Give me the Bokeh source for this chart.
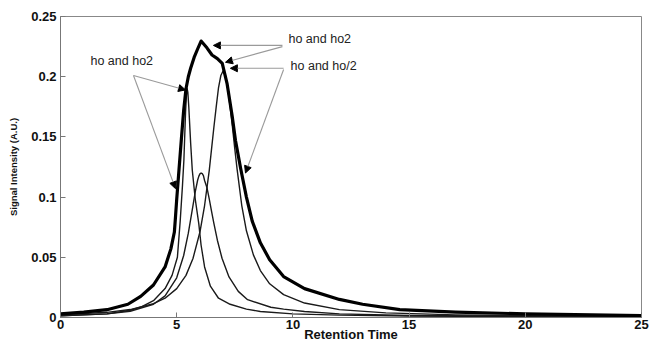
from bokeh.plotting import figure
from bokeh.models import Range1d, Label, Arrow, NormalHead, FixedTicker
from bokeh.embed import file_html
from bokeh.resources import INLINE

# ---- data ----
env_x = [0, 1, 2, 2.9, 3.45, 4.0, 4.5, 4.75, 4.9, 4.95, 5.0, 5.1, 5.2, 5.3, 5.4, 5.5, 5.6, 5.75,
         5.9, 6.05, 6.3, 6.52, 6.75, 6.96, 7.17, 7.39, 7.53, 7.75, 8.0, 8.25, 8.6, 9.0, 9.6, 10.5,
         12, 13, 14.6, 17, 20, 25]
env_y = [0.003, 0.0045, 0.0065, 0.011, 0.0175, 0.027, 0.042, 0.057, 0.071, 0.084, 0.098, 0.123,
         0.148, 0.172, 0.19, 0.2, 0.207, 0.216, 0.223, 0.2296, 0.224, 0.218, 0.215, 0.211, 0.194,
         0.167, 0.147, 0.124, 0.1, 0.08, 0.062, 0.048, 0.034, 0.024, 0.015, 0.011, 0.0066, 0.0045,
         0.003, 0.0015]

left_x = [0, 2, 3, 3.5, 4, 4.5, 4.8, 5.03, 5.15, 5.25, 5.31, 5.38, 5.42, 5.45, 5.48, 5.52, 5.6,
          5.67, 5.8, 5.95, 6.05, 6.2, 6.45, 6.8, 7.3, 8, 8.6, 10, 12, 15, 20, 25]
left_y = [0.0015, 0.003, 0.006, 0.009, 0.014, 0.024, 0.035, 0.05, 0.08, 0.11, 0.131, 0.17,
          0.185, 0.19, 0.187, 0.175, 0.145, 0.1225, 0.098, 0.078, 0.06, 0.042, 0.026, 0.016,
          0.011, 0.007, 0.005, 0.003, 0.002, 0.0013, 0.0008, 0.0005]

mid_x = [0, 2, 3, 4, 4.5, 5.0, 5.3, 5.5, 5.7, 5.8, 5.9, 5.95, 6.0, 6.05, 6.1, 6.15, 6.2, 6.3,
         6.4, 6.5, 6.6, 6.75, 6.95, 7.25, 7.65, 8.05, 9.05, 9.6, 10.5, 12, 15, 20, 25]
mid_y = [0.0014, 0.003, 0.0052, 0.011, 0.018, 0.033, 0.0515, 0.07, 0.093, 0.1045, 0.114,
         0.1172, 0.1193, 0.12, 0.1195, 0.1179, 0.1138, 0.108, 0.0986, 0.0882, 0.0781, 0.0642,
         0.0492, 0.0337, 0.0217, 0.0148, 0.0085, 0.007, 0.005, 0.003, 0.0016, 0.0009, 0.0006]

right_x = [0, 2, 3, 4, 4.5, 5, 5.4, 5.7, 6.0, 6.2, 6.4, 6.5, 6.6, 6.7, 6.8, 6.9, 7.0, 7.1, 7.2,
           7.3, 7.4, 7.5, 7.6, 7.8, 8.0, 8.3, 8.6, 9.0, 9.6, 10.5, 12, 14, 17, 20, 25]
right_y = [0.0022, 0.0043, 0.0066, 0.0115, 0.016, 0.024, 0.035, 0.049, 0.071, 0.093, 0.122,
           0.14, 0.158, 0.175, 0.191, 0.201, 0.205, 0.201, 0.19, 0.175, 0.158, 0.14, 0.123,
           0.093, 0.072, 0.052, 0.039, 0.028, 0.019, 0.012, 0.0065, 0.0038, 0.0022, 0.0015,
           0.0009]

x_ticks = [0, 5, 10, 15, 20, 25]
y_ticks = [0, 0.05, 0.1, 0.15, 0.2, 0.25]
y_tick_labels = ["0", "0.05", "0.1", "0.15", "0.2", "0.25"]

ann_texts = ["ho and ho2", "ho and ho2", "ho and ho/2"]
ann_pos = [(1.29, 0.213), (9.81, 0.231), (9.9, 0.2089)]
arrow_starts = [(3.14, 0.201), (3.14, 0.201), (9.55, 0.226), (9.55, 0.225), (9.6, 0.207), (9.6, 0.206)]
arrow_ends = [(5.38, 0.189), (4.95, 0.107), (6.58, 0.226), (7.1, 0.212), (7.31, 0.207), (7.96, 0.12)]

FONT = "Liberation Sans"

p = figure(width=650, height=344, output_backend="svg", toolbar_location=None,
           x_range=Range1d(0, 25), y_range=Range1d(0, 0.25),
           min_border_left=60, min_border_right=9, min_border_top=16, min_border_bottom=26)
p.grid.visible = False
p.outline_line_color = "#888888"
p.outline_line_width = 1
p.background_fill_color = "white"
p.border_fill_color = "white"

for ax in (p.xaxis[0], p.yaxis[0]):
    ax.axis_line_color = "#777777"
    ax.major_tick_line_color = "#777777"
    ax.major_tick_in = 5
    ax.major_tick_out = 0
    ax.minor_tick_line_color = None
    ax.major_label_text_font = FONT
    ax.major_label_text_font_style = "bold"
    ax.major_label_text_font_size = "13px"
    ax.major_label_text_color = "#111111"
    ax.axis_label_text_font = FONT
    ax.axis_label_text_font_style = "bold"
    ax.axis_label_text_color = "#111111"

p.xaxis.ticker = FixedTicker(ticks=x_ticks)
p.yaxis.ticker = FixedTicker(ticks=y_ticks)
p.xaxis.major_label_overrides = {t: str(t) for t in x_ticks}
p.yaxis.major_label_overrides = dict(zip(y_ticks, y_tick_labels))
p.xaxis.major_label_standoff = 2
p.yaxis.major_label_standoff = 4

p.yaxis.axis_label = "Signal Intensity (A.U.)"
p.yaxis.axis_label_text_font_size = "9.5px"
p.yaxis.axis_label_standoff = 9

p.xaxis.axis_label = "Retention Time"
p.xaxis.axis_label_text_font_size = "13px"
p.xaxis.axis_label_standoff = -5

# thin component curves
for xs, ys in ((left_x, left_y), (mid_x, mid_y), (right_x, right_y)):
    p.line(xs, ys, line_color="#1a1a1a", line_width=1.4, line_join="round")
# thick envelope
p.line(env_x, env_y, line_color="black", line_width=3.2, line_join="round")

# annotation arrows
for (xs, ys), (xe, ye) in zip(arrow_starts, arrow_ends):
    p.add_layout(Arrow(end=NormalHead(size=7, fill_color="black", line_color="black", line_width=1),
                       x_start=xs, y_start=ys, x_end=xe, y_end=ye,
                       line_color="#9a9a9a", line_width=1.1))

for t, (x, y) in zip(ann_texts, ann_pos):
    p.add_layout(Label(x=x, y=y, text=t, text_font=FONT, text_font_size="12.5px",
                       text_color="#222222", text_baseline="middle", text_align="left"))

open("out.html", "w").write(file_html(p, INLINE))
